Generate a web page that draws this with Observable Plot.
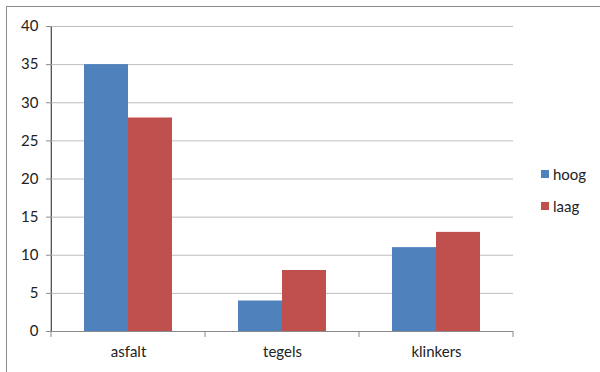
<!DOCTYPE html>
<html>
<head>
<meta charset="utf-8">
<script src="https://cdn.jsdelivr.net/npm/d3@7"></script>
<script src="https://cdn.jsdelivr.net/npm/@observablehq/plot@0.6"></script>
<style>
  html, body { margin: 0; padding: 0; background: #fff; }
  #wrap { position: relative; width: 600px; height: 372px; overflow: hidden; font-family: Lato, "Open Sans", sans-serif; }
  #border { position: absolute; left: 6px; top: 6px; width: 700px; height: 500px; border: 1.5px solid #8a8a8a; box-sizing: border-box; }
  #chart { position: absolute; left: 0; top: 0; }
  #legend { position: absolute; left: 541px; top: 164px; font-size: 15px; color: #222; }
  .item { display: flex; align-items: center; height: 20px; margin-bottom: 12px; }
  .sw { width: 8px; height: 8px; margin-right: 4px; }
</style>
</head>
<body>
<div id="wrap">
  <div id="border"></div>
  <div id="chart"></div>
  <div id="legend"></div>
</div>
<script>
const categories = ["asfalt", "tegels", "klinkers"];
const series = ["hoog", "laag"];
const hoog = [35, 4, 11];
const laag = [28, 8, 13];
const yTicks = [0, 5, 10, 15, 20, 25, 30, 35, 40];
const colors = ["#4f81bd", "#c0504d"];

const data = [];
categories.forEach((c, i) => {
  data.push({category: c, series: "hoog", value: hoog[i]});
  data.push({category: c, series: "laag", value: laag[i]});
});

const plot = Plot.plot({
  width: 600,
  height: 372,
  marginLeft: 50,
  marginRight: 86,
  marginTop: 26,
  marginBottom: 41,
  style: {fontFamily: "Lato, 'Open Sans', sans-serif", fontSize: "15px", color: "#222", background: "transparent"},
  facet: {data, x: "category"},
  fx: {domain: categories, padding: 0, label: null, axis: "bottom", tickSize: 0, tickPadding: 15},
  x: {domain: series, axis: null, paddingInner: 0, paddingOuter: 0.738, align: 0.5},
  y: {domain: [0, 40], ticks: yTicks, tickSize: 5, tickPadding: 8, label: null, line: true, tickFormat: d => String(d)},
  color: {domain: series, range: colors},
  marks: [
    Plot.ruleY(yTicks.filter(d => d > 0), {stroke: "#bdbdbd", strokeWidth: 1}),
    Plot.barY(data, {x: "series", y: "value", fill: "series"}),
    Plot.ruleY([0], {stroke: "#8a8a8a", strokeWidth: 1})
  ]
});

// axis line / tick styling
d3.select(plot).selectAll("[aria-label='y-axis tick'] path, [aria-label='y-axis tick'] line").attr("stroke", "#8a8a8a");
d3.select(plot).selectAll("[aria-label='y-axis'] path, [aria-label='y-axis'] line").attr("stroke", "#8a8a8a");

// category boundary ticks below the x axis, from the library's scales
try {
  const fx = plot.scale("fx");
  const y = plot.scale("y");
  const y0 = y.apply(0);
  const bounds = categories.map(c => fx.apply(c));
  bounds.push(fx.apply(categories[categories.length - 1]) + fx.bandwidth);
  const g = d3.select(plot).append("g").attr("stroke", "#8a8a8a");
  bounds.forEach(b => {
    g.append("line").attr("x1", b).attr("x2", b).attr("y1", y0).attr("y2", y0 + 6);
  });
  g.append("line").attr("x1", bounds[0]).attr("x2", bounds[0]).attr("y1", y.apply(40)).attr("y2", y0);
} catch (e) {}

document.getElementById("chart").appendChild(plot);

const legend = document.getElementById("legend");
series.forEach((s, i) => {
  const item = document.createElement("div");
  item.className = "item";
  const sw = document.createElement("div");
  sw.className = "sw";
  sw.style.background = colors[i];
  const t = document.createElement("span");
  t.textContent = s;
  item.appendChild(sw);
  item.appendChild(t);
  legend.appendChild(item);
});
</script>
</body>
</html>
